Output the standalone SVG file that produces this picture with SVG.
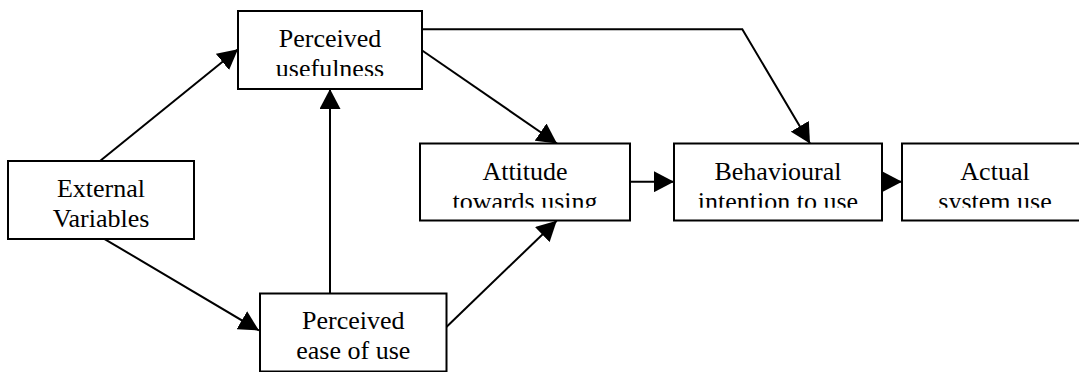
<svg xmlns="http://www.w3.org/2000/svg" width="1079" height="372" viewBox="0 0 1079 372">
<style>
.box{fill:#fff;stroke:#000;stroke-width:2}
.lbl{font-family:"Liberation Serif","Times New Roman",serif;font-size:26px;fill:#000;text-anchor:middle}
.con{fill:none;stroke:#000;stroke-width:2;marker-end:url(#ah)}
</style>
<defs>
<marker id="ah" markerUnits="userSpaceOnUse" viewBox="0 0 20 21" refX="20" refY="10.5" markerWidth="20" markerHeight="21" orient="auto">
<path d="M0,0 L20,10.5 L0,21 z" fill="#000"/>
</marker>
<clipPath id="cpPU"><rect x="238" y="11" width="184" height="65"/></clipPath>
<clipPath id="cpAT"><rect x="420" y="143.5" width="210" height="64.3"/></clipPath>
<clipPath id="cpBI"><rect x="674" y="143.5" width="208" height="64.3"/></clipPath>
<clipPath id="cpAU"><rect x="902" y="143.5" width="186" height="64.3"/></clipPath>
</defs>
<g id="connectors">
<path class="con" d="M100,161 L238,49.3"/>
<path class="con" d="M101.7,237.3 L259,330.5"/>
<path class="con" d="M330,293.5 L330,89"/>
<path class="con" d="M420,49 L557,143.5"/>
<path class="con" d="M420,29.3 L742.3,29.3 L810,143.5"/>
<path class="con" d="M443.3,330 L556.7,220.7"/>
<path class="con" d="M628,181.7 L674,181.7"/>
<path class="con" d="M880,181.7 L902,181.7"/>
</g>
<g id="node-perceived-usefulness">
<rect class="box" x="238" y="11" width="184" height="78"/>
<g clip-path="url(#cpPU)">
<text class="lbl" x="330" y="46.7">Perceived</text>
<text class="lbl" x="330" y="76.7">usefulness</text>
</g>
</g>
<g id="node-external-variables">
<rect class="box" x="8" y="161" width="186" height="78"/>
<text class="lbl" x="101" y="196.7">External</text>
<text class="lbl" x="101" y="226.7">Variables</text>
</g>
<g id="node-attitude">
<rect class="box" x="420" y="143.5" width="210" height="77"/>
<g clip-path="url(#cpAT)">
<text class="lbl" x="525" y="180">Attitude</text>
<text class="lbl" x="525" y="210">towards using</text>
</g>
</g>
<g id="node-behavioural-intention">
<rect class="box" x="674" y="143.5" width="208" height="77"/>
<g clip-path="url(#cpBI)">
<text class="lbl" x="778" y="180">Behavioural</text>
<text class="lbl" x="778" y="210">intention to use</text>
</g>
</g>
<g id="node-actual-use">
<rect class="box" x="902" y="143.5" width="186" height="77"/>
<g clip-path="url(#cpAU)">
<text class="lbl" x="995" y="180">Actual</text>
<text class="lbl" x="995" y="210">system use</text>
</g>
</g>
<g id="node-perceived-ease">
<rect class="box" x="260" y="293.5" width="186.5" height="78"/>
<text class="lbl" x="353.3" y="329.3">Perceived</text>
<text class="lbl" x="353.3" y="359.3">ease of use</text>
</g>
</svg>
